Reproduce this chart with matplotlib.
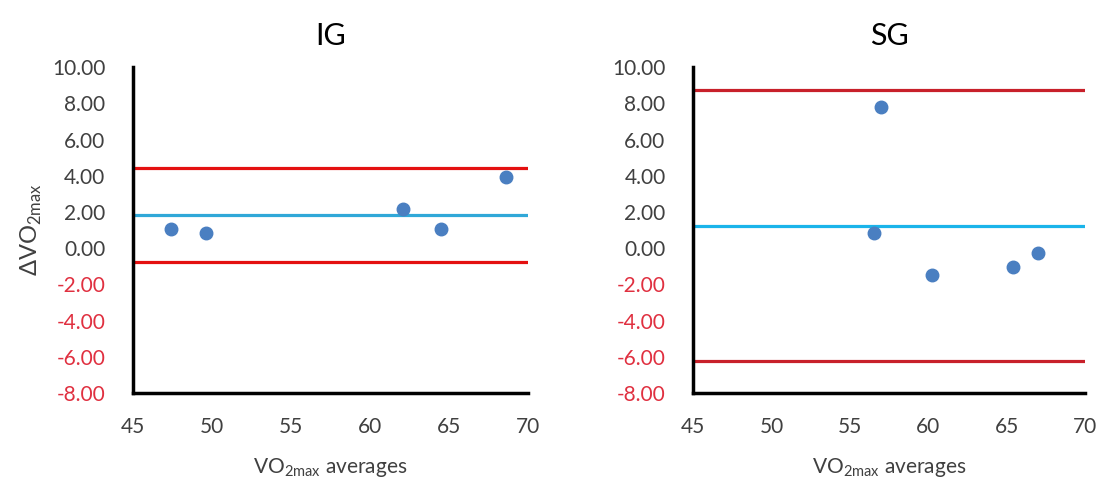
import matplotlib.pyplot as plt

plt.rcParams['font.family'] = ['Lato', 'DejaVu Sans']

# IG group
ig_avg = [47.4, 49.6, 62.1, 64.5, 68.6]
ig_diff = [1.05, 0.85, 2.19, 1.05, 3.94]
ig_mean = 1.82
ig_upper = 4.42
ig_lower = -0.77

# SG group
sg_avg = [56.97, 56.5, 60.2, 65.4, 67.0]
sg_diff = [7.77, 0.85, -1.49, -1.03, -0.26]
sg_mean = 1.23
sg_upper = 8.73
sg_lower = -6.23

yticks = [-8, -6, -4, -2, 0, 2, 4, 6, 8, 10]
xticks = [45, 50, 55, 60, 65, 70]

fig = plt.figure(figsize=(11.04, 4.86), dpi=100)
ax1 = fig.add_axes([0.1205, 0.191, 0.358, 0.671])
ax2 = fig.add_axes([0.628, 0.191, 0.355, 0.671])

panels = [
    (ax1, "IG", ig_avg, ig_diff, ig_mean, ig_upper, ig_lower, "#e41010", "#30a8d8"),
    (ax2, "SG", sg_avg, sg_diff, sg_mean, sg_upper, sg_lower, "#c8202a", "#1ab4ea"),
]

for ax, title, xs, ys, m, up, lo, red, cyan in panels:
    ax.axhline(up, color=red, lw=2.3, zorder=2)
    ax.axhline(lo, color=red, lw=2.3, zorder=2)
    ax.axhline(m, color=cyan, lw=2.3, zorder=2)
    ax.plot(xs, ys, "o", color="#4a7fc1", markersize=9, zorder=3)
    ax.set_xlim(45, 70)
    ax.set_ylim(-8, 10)
    ax.set_xticks(xticks)
    ax.set_yticks(yticks)
    ax.set_yticklabels([f"{v:.2f}" for v in yticks], fontsize=15)
    for lab, v in zip(ax.get_yticklabels(), yticks):
        lab.set_color("#e03040" if v < 0 else "#404040")
    ax.set_xticklabels([str(v) for v in xticks], fontsize=15, color="#404040")
    ax.tick_params(axis="y", length=0, pad=20)
    ax.tick_params(axis="x", length=0, pad=17)
    for s in ["top", "right"]:
        ax.spines[s].set_visible(False)
    for s in ["left", "bottom"]:
        ax.spines[s].set_linewidth(2.5)
        ax.spines[s].set_color("black")
    ax.set_title(title, fontsize=22, pad=16, color="black")
    ax.set_xlabel(r"VO$_{\mathregular{2max}}$ averages", fontsize=15, color="#404040", labelpad=14)

ax1.set_ylabel(r"ΔVO$_{\mathregular{2max}}$", fontsize=17, color="#404040", labelpad=6)

fig.savefig("out.png", dpi=100)
